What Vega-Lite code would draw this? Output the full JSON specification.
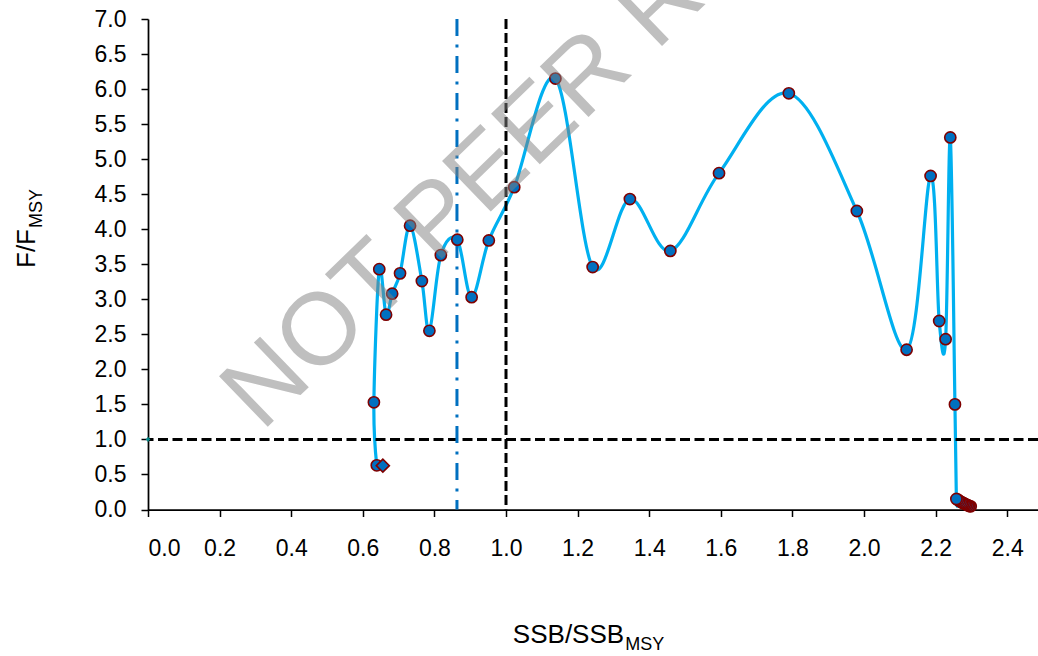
{
  "$schema": "https://vega.github.io/schema/vega-lite/v6.json",
  "autosize": {"type": "none"},
  "padding": {"left": 148, "top": 19, "right": 0, "bottom": 146.5},
  "width": 890,
  "height": 490.5,
  "background": "white",
  "config": {
    "view": {"stroke": null},
    "font": "Liberation Sans",
    "axis": {
      "domainColor": "black",
      "domainWidth": 1.75,
      "tickColor": "black",
      "tickWidth": 1.5,
      "tickSize": 7,
      "grid": false,
      "labelFont": "Liberation Sans",
      "labelFontSize": 23,
      "labelColor": "black",
      "labelOverlap": false,
      "title": null
    }
  },
  "datasets": {
    "traj": [
      {"i": 1, "ssb": 2.298, "f": 0.045},
      {"i": 2, "ssb": 2.294, "f": 0.05},
      {"i": 3, "ssb": 2.290, "f": 0.06},
      {"i": 4, "ssb": 2.286, "f": 0.07},
      {"i": 5, "ssb": 2.282, "f": 0.08},
      {"i": 6, "ssb": 2.278, "f": 0.09},
      {"i": 7, "ssb": 2.274, "f": 0.10},
      {"i": 8, "ssb": 2.270, "f": 0.11},
      {"i": 9, "ssb": 2.266, "f": 0.125},
      {"i": 10, "ssb": 2.262, "f": 0.14},
      {"i": 11, "ssb": 2.258, "f": 0.15},
      {"i": 12, "ssb": 2.254, "f": 1.50},
      {"i": 13, "ssb": 2.241, "f": 5.31},
      {"i": 14, "ssb": 2.228, "f": 2.43},
      {"i": 15, "ssb": 2.210, "f": 2.69},
      {"i": 16, "ssb": 2.186, "f": 4.76},
      {"i": 17, "ssb": 2.119, "f": 2.28},
      {"i": 18, "ssb": 1.980, "f": 4.26},
      {"i": 19, "ssb": 1.790, "f": 5.94},
      {"i": 20, "ssb": 1.595, "f": 4.80},
      {"i": 21, "ssb": 1.459, "f": 3.69},
      {"i": 22, "ssb": 1.346, "f": 4.43},
      {"i": 23, "ssb": 1.242, "f": 3.46},
      {"i": 24, "ssb": 1.138, "f": 6.15},
      {"i": 25, "ssb": 1.023, "f": 4.60},
      {"i": 26, "ssb": 0.952, "f": 3.84},
      {"i": 27, "ssb": 0.904, "f": 3.03},
      {"i": 28, "ssb": 0.864, "f": 3.85},
      {"i": 29, "ssb": 0.818, "f": 3.63},
      {"i": 30, "ssb": 0.786, "f": 2.55},
      {"i": 31, "ssb": 0.765, "f": 3.26},
      {"i": 32, "ssb": 0.732, "f": 4.05},
      {"i": 33, "ssb": 0.704, "f": 3.37},
      {"i": 34, "ssb": 0.682, "f": 3.08},
      {"i": 35, "ssb": 0.665, "f": 2.78},
      {"i": 36, "ssb": 0.646, "f": 3.43},
      {"i": 37, "ssb": 0.631, "f": 1.53},
      {"i": 38, "ssb": 0.639, "f": 0.63}
    ],
    "current": [{"ssb": 0.656, "f": 0.626}],
    "fmsyMark": [{"ssb": 0, "f": 1}]
  },
  "layer": [
    {
      "data": {"name": "traj"},
      "mark": {"type": "line", "interpolate": "cardinal", "color": "#00B0F0", "strokeWidth": 3.2},
      "encoding": {
        "x": {"field": "ssb", "type": "quantitative", "scale": {"domain": [0, 2.486], "nice": false, "zero": false},
              "axis": {"values": [0, 0.2, 0.4, 0.6, 0.8, 1.0, 1.2, 1.4, 1.6, 1.8, 2.0, 2.2, 2.4], "format": ".1f", "labelPadding": 21}},
        "y": {"field": "f", "type": "quantitative", "scale": {"domain": [0, 7], "nice": false, "zero": false},
              "axis": {"values": [0, 0.5, 1, 1.5, 2, 2.5, 3, 3.5, 4, 4.5, 5, 5.5, 6, 6.5, 7], "format": ".1f", "labelPadding": 15}},
        "order": {"field": "i", "type": "quantitative"}
      }
    },
    {
      "data": {"values": [{}]},
      "mark": {"type": "rule", "color": "black", "strokeWidth": 3, "strokeDash": [10, 4.5]},
      "encoding": {"y": {"datum": 1, "axis": {"values": [0, 0.5, 1, 1.5, 2, 2.5, 3, 3.5, 4, 4.5, 5, 5.5, 6, 6.5, 7], "format": ".1f", "labelPadding": 15}}}
    },
    {
      "data": {"values": [{}]},
      "mark": {"type": "rule", "color": "black", "strokeWidth": 3, "strokeDash": [10, 4]},
      "encoding": {"x": {"datum": 1, "axis": {"values": [0, 0.2, 0.4, 0.6, 0.8, 1.0, 1.2, 1.4, 1.6, 1.8, 2.0, 2.2, 2.4], "format": ".1f", "labelPadding": 21}}}
    },
    {
      "data": {"values": [{}]},
      "mark": {"type": "rule", "color": "#0070C0", "strokeWidth": 3, "strokeDash": [17, 8.5, 3, 8.5]},
      "encoding": {"x": {"datum": 0.863, "axis": {"values": [0, 0.2, 0.4, 0.6, 0.8, 1.0, 1.2, 1.4, 1.6, 1.8, 2.0, 2.2, 2.4], "format": ".1f", "labelPadding": 21}}}
    },
    {
      "data": {"name": "traj"},
      "mark": {"type": "point", "shape": "circle", "filled": true, "size": 125, "fill": "#0070C0", "stroke": "#7F0000", "strokeWidth": 1.6, "opacity": 1},
      "encoding": {
        "x": {"field": "ssb", "type": "quantitative", "axis": {"values": [0, 0.2, 0.4, 0.6, 0.8, 1.0, 1.2, 1.4, 1.6, 1.8, 2.0, 2.2, 2.4], "format": ".1f", "labelPadding": 21}},
        "y": {"field": "f", "type": "quantitative", "axis": {"values": [0, 0.5, 1, 1.5, 2, 2.5, 3, 3.5, 4, 4.5, 5, 5.5, 6, 6.5, 7], "format": ".1f", "labelPadding": 15}},
        "order": {"field": "i", "type": "quantitative"}
      }
    },
    {
      "data": {"name": "current"},
      "mark": {"type": "point", "shape": "diamond", "filled": true, "size": 170, "fill": "#0070C0", "stroke": "#7F0000", "strokeWidth": 1.6, "opacity": 1},
      "encoding": {
        "x": {"field": "ssb", "type": "quantitative", "axis": {"values": [0, 0.2, 0.4, 0.6, 0.8, 1.0, 1.2, 1.4, 1.6, 1.8, 2.0, 2.2, 2.4], "format": ".1f", "labelPadding": 21}},
        "y": {"field": "f", "type": "quantitative", "axis": {"values": [0, 0.5, 1, 1.5, 2, 2.5, 3, 3.5, 4, 4.5, 5, 5.5, 6, 6.5, 7], "format": ".1f", "labelPadding": 15}}
      }
    },
    {
      "data": {"name": "fmsyMark"},
      "mark": {"type": "point", "shape": "cross", "filled": true, "size": 18, "color": "#008B8B", "opacity": 1},
      "encoding": {
        "x": {"field": "ssb", "type": "quantitative", "axis": {"values": [0, 0.2, 0.4, 0.6, 0.8, 1.0, 1.2, 1.4, 1.6, 1.8, 2.0, 2.2, 2.4], "format": ".1f", "labelPadding": 21}},
        "y": {"field": "f", "type": "quantitative", "axis": {"values": [0, 0.5, 1, 1.5, 2, 2.5, 3, 3.5, 4, 4.5, 5, 5.5, 6, 6.5, 7], "format": ".1f", "labelPadding": 15}}
      }
    },
    {
      "data": {"values": [{"t": "SSB/SSB"}]},
      "mark": {"type": "text", "align": "right", "baseline": "alphabetic", "fontSize": 26, "font": "Liberation Sans", "color": "black"},
      "encoding": {
        "x": {"datum": 1.330, "axis": {"values": [0, 0.2, 0.4, 0.6, 0.8, 1.0, 1.2, 1.4, 1.6, 1.8, 2.0, 2.2, 2.4], "format": ".1f", "labelPadding": 21}},
        "y": {"datum": -1.905, "axis": {"values": [0, 0.5, 1, 1.5, 2, 2.5, 3, 3.5, 4, 4.5, 5, 5.5, 6, 6.5, 7], "format": ".1f", "labelPadding": 15}},
        "text": {"field": "t"}}
    },
    {
      "data": {"values": [{"t": "MSY"}]},
      "mark": {"type": "text", "align": "left", "baseline": "alphabetic", "fontSize": 18, "font": "Liberation Sans", "color": "black"},
      "encoding": {
        "x": {"datum": 1.333, "axis": {"values": [0, 0.2, 0.4, 0.6, 0.8, 1.0, 1.2, 1.4, 1.6, 1.8, 2.0, 2.2, 2.4], "format": ".1f", "labelPadding": 21}},
        "y": {"datum": -2.005, "axis": {"values": [0, 0.5, 1, 1.5, 2, 2.5, 3, 3.5, 4, 4.5, 5, 5.5, 6, 6.5, 7], "format": ".1f", "labelPadding": 15}},
        "text": {"field": "t"}}
    },
    {
      "data": {"values": [{"t": "F/F"}]},
      "mark": {"type": "text", "align": "right", "baseline": "alphabetic", "angle": -90, "fontSize": 26, "font": "Liberation Sans", "color": "black"},
      "encoding": {
        "x": {"datum": -0.316, "axis": {"values": [0, 0.2, 0.4, 0.6, 0.8, 1.0, 1.2, 1.4, 1.6, 1.8, 2.0, 2.2, 2.4], "format": ".1f", "labelPadding": 21}},
        "y": {"datum": 4.003, "axis": {"values": [0, 0.5, 1, 1.5, 2, 2.5, 3, 3.5, 4, 4.5, 5, 5.5, 6, 6.5, 7], "format": ".1f", "labelPadding": 15}},
        "text": {"field": "t"}}
    },
    {
      "data": {"values": [{"t": "MSY"}]},
      "mark": {"type": "text", "align": "left", "baseline": "alphabetic", "angle": -90, "fontSize": 18, "font": "Liberation Sans", "color": "black"},
      "encoding": {
        "x": {"datum": -0.296, "axis": {"values": [0, 0.2, 0.4, 0.6, 0.8, 1.0, 1.2, 1.4, 1.6, 1.8, 2.0, 2.2, 2.4], "format": ".1f", "labelPadding": 21}},
        "y": {"datum": 4.017, "axis": {"values": [0, 0.5, 1, 1.5, 2, 2.5, 3, 3.5, 4, 4.5, 5, 5.5, 6, 6.5, 7], "format": ".1f", "labelPadding": 15}},
        "text": {"field": "t"}}
    },
    {
      "data": {"values": [{"t": "NOT PEER REVIEWED"}]},
      "mark": {"type": "text", "align": "left", "baseline": "alphabetic", "angle": -44, "fontSize": 102, "font": "Liberation Sans", "color": "#808080", "opacity": 0.5},
      "encoding": {
        "x": {"datum": 0.318, "axis": {"values": [0, 0.2, 0.4, 0.6, 0.8, 1.0, 1.2, 1.4, 1.6, 1.8, 2.0, 2.2, 2.4], "format": ".1f", "labelPadding": 21}},
        "y": {"datum": 1.10, "axis": {"values": [0, 0.5, 1, 1.5, 2, 2.5, 3, 3.5, 4, 4.5, 5, 5.5, 6, 6.5, 7], "format": ".1f", "labelPadding": 15}},
        "text": {"field": "t"}}
    }
  ]
}
